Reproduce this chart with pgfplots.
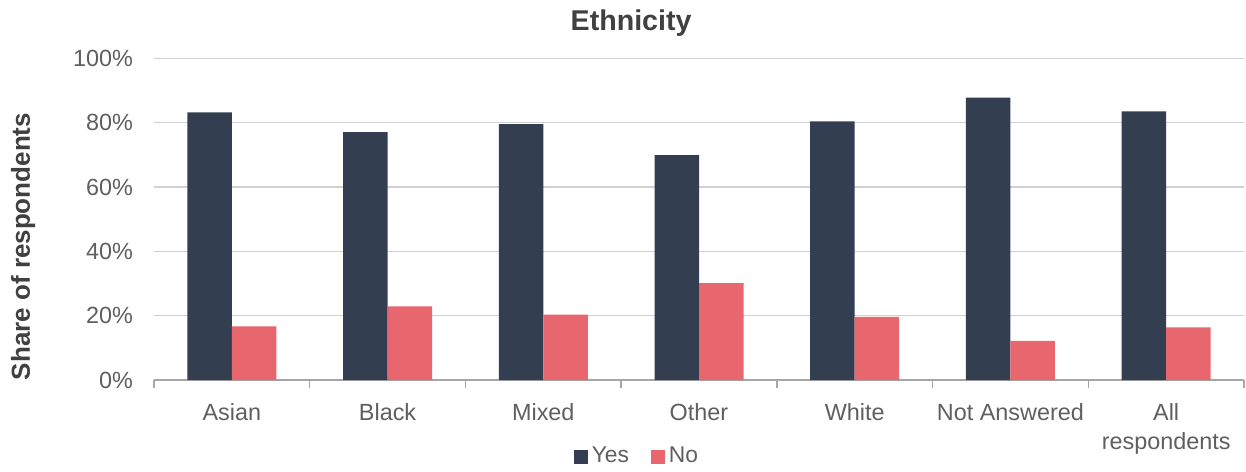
\documentclass[border=0pt]{standalone}
\usepackage{fontspec}
\setmainfont{Liberation Sans}
\usepackage{pgfplots}
\pgfplotsset{compat=1.18}
\definecolor{yescol}{HTML}{333F50}
\definecolor{nocol}{HTML}{E8666E}
\definecolor{txtgray}{HTML}{5F5F5F}
\definecolor{titlegray}{HTML}{404040}
\definecolor{gridgray}{HTML}{D0D0D0}
\definecolor{axgray}{HTML}{A6A6A6}
\begin{document}
\begin{tikzpicture}
\begin{axis}[
  scale only axis, width=545pt, height=160.8pt,
  ybar=0pt, bar width=22.25pt,
  ymin=0, ymax=100, ytick={0,20,...,100},
  /pgf/number format/assume math mode=true,
  yticklabel={\pgfmathprintnumber{\tick}\%},
  xmin=-0.5, xmax=6.5, xtick={0,...,6},
  xticklabels={Asian,Black,Mixed,Other,White,Not Answered,{All\\respondents}},
  minor xtick={-0.5,0.5,...,6.5},
  major tick length=0pt, minor tick length=3.8pt,
  axis x line*=bottom, axis y line*=left,
  y axis line style={draw=none},
  x axis line style={axgray, line width=0.7pt, -},
  every minor tick/.style={axgray, line width=0.7pt},
  xtick align=outside,
  ymajorgrids, grid style={gridgray, line width=0.7pt},
  tick label style={font=\fontsize{11.7}{14.5}\selectfont, text=txtgray},
  yticklabel style={xshift=-7pt},
  xticklabel style={align=center, yshift=-8pt},
  title={Ethnicity},
  title style={at={(axis description cs:0.4377,1.072)}, anchor=center, font=\fontsize{14.3}{17}\selectfont\bfseries, text=titlegray},
  ylabel={Share of respondents},
  ylabel style={at={(axis description cs:-0.1201,0.415)}, anchor=center, font=\fontsize{13}{15}\selectfont\bfseries, text=titlegray},
  legend style={at={(axis description cs:0.444,-0.238)}, anchor=center, draw=none, font=\fontsize{11.4}{13}\selectfont, text=txtgray, legend columns=2, /tikz/every even column/.append style={column sep=9pt}, inner sep=0pt},
  legend cell align=left,
]
\addplot[fill=yescol, draw=none, legend image code/.code={\fill[yescol] (0pt,-3.5pt) rectangle (7pt,3.5pt);}] coordinates {(0,83.2) (1,77.1) (2,79.6) (3,69.9) (4,80.4) (5,87.8) (6,83.5)};
\addplot[fill=nocol, draw=none, legend image code/.code={\fill[nocol] (0pt,-3.5pt) rectangle (7pt,3.5pt);}] coordinates {(0,16.7) (1,22.9) (2,20.3) (3,30.1) (4,19.6) (5,12.2) (6,16.4)};
\legend{Yes,No}
\end{axis}
\pgfresetboundingbox
\path[use as bounding box] ([xshift=-77pt,yshift=-45.5pt]current axis.south west) rectangle ([xshift=1pt,yshift=29.2pt]current axis.north east);
\end{tikzpicture}
\end{document}
